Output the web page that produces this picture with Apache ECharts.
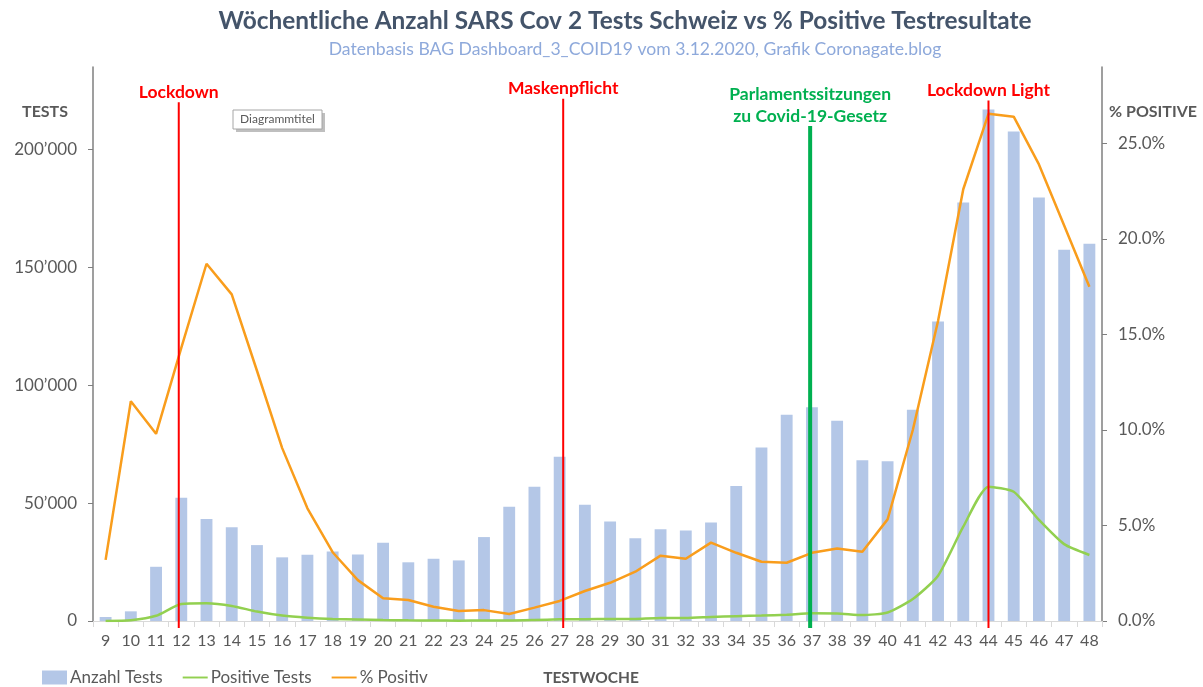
<!DOCTYPE html>
<html>
<head>
<meta charset="utf-8">
<script src="https://cdn.jsdelivr.net/npm/echarts@6/dist/echarts.min.js"></script>
<style>
  html, body { margin: 0; padding: 0; background: #fff; }
  #chart { width: 1203px; height: 687px; }
</style>
</head>
<body>
<div id="chart"></div>
<script>
// Testwochen 9..48
var weeks = [];
for (var w = 9; w <= 48; w++) weeks.push(String(w));

// Anzahl Tests pro Woche
var testsCount = [1700, 4100, 23000, 52300, 43300, 39800, 32200, 27000, 28100, 29500,
  28200, 33200, 24900, 26400, 25700, 35600, 48500, 57000, 69700, 49300,
  42200, 35100, 38900, 38400, 41800, 57300, 73600, 87500, 90700, 84900,
  68200, 67800, 89600, 127000, 177500, 217000, 207600, 179600, 157500, 160000];

// positive Tests pro Woche
var positiveTests = [0, 300, 2200, 7200, 7500, 6400, 4000, 2300, 1400, 850,
  600, 400, 270, 200, 130, 200, 180, 400, 700, 750,
  850, 900, 1300, 1250, 1700, 2050, 2300, 2650, 3250, 3200,
  2500, 3600, 9300, 19200, 40000, 57000, 54800, 42900, 32600, 28000];

// % positiv
var percentPositive = [3.2, 11.5, 9.8, 14.3, 18.7, 17.1, 13.1, 9.05, 5.9, 3.6,
  2.14, 1.19, 1.1, 0.75, 0.52, 0.57, 0.37, 0.7, 1.05, 1.57,
  2.0, 2.58, 3.42, 3.26, 4.1, 3.57, 3.1, 3.05, 3.57, 3.8,
  3.62, 5.32, 10.0, 15.7, 22.6, 26.55, 26.4, 23.9, 20.7, 17.5];

// Ereignisse (Woche, oberes Ende der Linie in Tests-Einheiten)
var eventWeeks = [11.9, 27.14, 36.93, 44.0];
var eventTops = [220000, 221500, 210000, 220800];
var eventLabels = ['Lockdown', 'Maskenpflicht', 'Parlamentssitzungen\nzu Covid-19-Gesetz', 'Lockdown Light'];

var leftTicks = { max: 235000, step: 50000 };
var rightTicks = { max: 29, step: 5 };

var FONT = 'Lato, "Open Sans", sans-serif';
var GRAY = '#595959';
var eventColors = ['#FF0000', '#FF0000', '#00B050', '#FF0000'];
var eventWidths = [2, 2, 4, 2];

var chart = echarts.init(document.getElementById('chart'));

var option = {
  animation: false,
  textStyle: { fontFamily: FONT },
  grid: { left: 93, right: 101, top: 67, bottom: 66, containLabel: false },
  legend: {
    left: 37, top: 664,
    itemWidth: 25, itemHeight: 14, itemGap: 20,
    textStyle: { fontFamily: FONT, fontSize: 17, color: GRAY, padding: [0, 0, 0, -2] },
    data: [
      { name: 'Anzahl Tests', icon: 'rect' },
      { name: 'Positive Tests', icon: 'path://M0,6 L26,6 L26,8 L0,8 Z' },
      { name: '% Positiv', icon: 'path://M0,6 L26,6 L26,8 L0,8 Z' }
    ]
  },
  graphic: [
    { type: 'text', style: { text: 'Wöchentliche Anzahl SARS Cov 2 Tests Schweiz vs % Positive Testresultate',
      x: 625, y: 21, textAlign: 'center', textVerticalAlign: 'middle', fill: '#44546A', font: 'bold 24.4px ' + FONT } },
    { type: 'text', style: { text: 'Datenbasis BAG Dashboard_3_COID19 vom 3.12.2020, Grafik Coronagate.blog',
      x: 635, y: 49, textAlign: 'center', textVerticalAlign: 'middle', fill: '#8EA9DB', font: '17.6px ' + FONT } },
    { type: 'text', style: { text: 'TESTS', x: 45, y: 112, textAlign: 'center', textVerticalAlign: 'middle', fill: GRAY, font: 'bold 16px ' + FONT } },
    { type: 'text', style: { text: '% POSITIVE', x: 1153, y: 112, textAlign: 'center', textVerticalAlign: 'middle', fill: GRAY, font: 'bold 16px ' + FONT } },
    { type: 'text', style: { text: 'TESTWOCHE', x: 591, y: 678, textAlign: 'center', textVerticalAlign: 'middle', fill: GRAY, font: 'bold 15.5px ' + FONT } },
    { type: 'rect', shape: { x: 236, y: 113, width: 89, height: 19 }, style: { fill: '#bfbfbf' } },
    { type: 'rect', shape: { x: 233, y: 110, width: 89, height: 19 }, style: { fill: '#fff', stroke: '#a6a6a6', lineWidth: 1 } },
    { type: 'text', style: { text: 'Diagrammtitel', x: 277.5, y: 119.5, textAlign: 'center', textVerticalAlign: 'middle', fill: GRAY, font: '12px ' + FONT } }
  ],
  xAxis: [{
    type: 'category',
    data: weeks,
    boundaryGap: true,
    axisLine: { lineStyle: { color: '#d9d9d9', width: 1 } },
    axisTick: { show: true, length: 6, lineStyle: { color: '#d9d9d9' } },
    axisLabel: { interval: 0, fontSize: 16, color: GRAY, margin: 12, fontFamily: FONT },
    splitLine: { show: false }
  }, {
    type: 'value', min: 8.5, max: 48.5, show: false
  }],
  yAxis: [{
    type: 'value', min: 0, max: leftTicks.max, interval: leftTicks.step,
    axisLine: { show: true, lineStyle: { color: '#7f7f7f', width: 1.5 } },
    axisTick: { show: true, length: 5, lineStyle: { color: '#7f7f7f' } },
    splitLine: { show: false },
    axisLabel: {
      fontSize: 17, color: GRAY, margin: 16, fontFamily: FONT, showMaxLabel: false,
      formatter: function (v) { return v === 0 ? '0' : (v / 1000) + '\u2019000'; }
    }
  }, {
    type: 'value', min: 0, max: rightTicks.max, interval: rightTicks.step,
    position: 'right',
    axisLine: { show: true, lineStyle: { color: '#7f7f7f', width: 1.5 } },
    axisTick: { show: true, length: 5, lineStyle: { color: '#7f7f7f' } },
    splitLine: { show: false },
    axisLabel: {
      fontSize: 17, color: GRAY, margin: 16, fontFamily: FONT, showMaxLabel: false,
      formatter: function (v) { return v.toFixed(1) + '%'; }
    }
  }],
  series: [{
    name: 'Anzahl Tests', type: 'bar', data: testsCount,
    barWidth: '47%',
    itemStyle: { color: '#B4C7E7' }
  }, {
    name: 'Positive Tests', type: 'line', data: positiveTests,
    smooth: 0.2, symbol: 'none',
    lineStyle: { color: '#92D050', width: 2.5 },
    itemStyle: { color: '#92D050' }, z: 3
  }, {
    name: '% Positiv', type: 'line', data: percentPositive, yAxisIndex: 1,
    symbol: 'none',
    lineStyle: { color: '#F99D1C', width: 2.5 },
    itemStyle: { color: '#F99D1C' }, z: 4
  }, {
    type: 'custom', xAxisIndex: 1, yAxisIndex: 0, z: 10, clip: false,
    data: eventWeeks.map(function (wk, i) { return [wk, eventTops[i]]; }),
    renderItem: function (params, api) {
      var i = params.dataIndex;
      var base = api.coord([api.value(0), 0]);
      var top = api.coord([api.value(0), api.value(1)]);
      return {
        type: 'group',
        children: [{
          type: 'line',
          shape: { x1: base[0], y1: top[1], x2: base[0], y2: base[1] + 7 },
          style: { stroke: eventColors[i], lineWidth: eventWidths[i] }
        }, {
          type: 'text',
          style: {
            text: eventLabels[i], x: base[0], y: top[1] + 1,
            textAlign: 'center', textVerticalAlign: 'bottom',
            fill: eventColors[i], font: 'bold 17.5px ' + FONT, lineHeight: 22
          }
        }]
      };
    }
  }]
};

chart.setOption(option);
</script>
</body>
</html>
